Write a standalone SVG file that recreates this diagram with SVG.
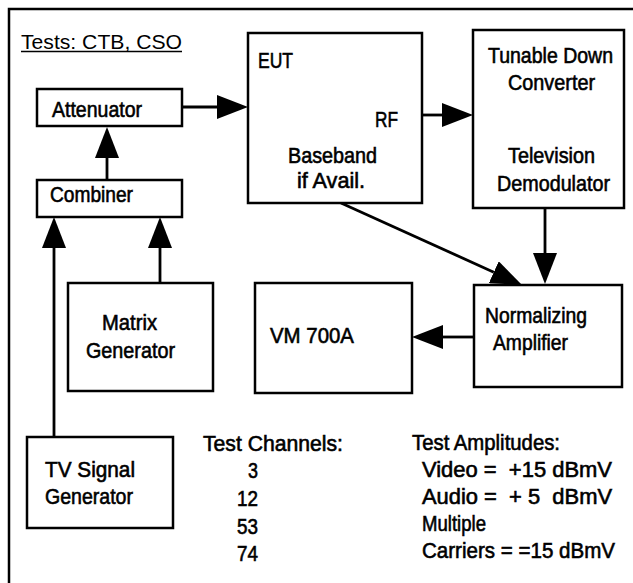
<svg xmlns="http://www.w3.org/2000/svg" width="633" height="583" viewBox="0 0 633 583">
<style>
  .box { fill: #fff; stroke: #000; stroke-width: 2.5; }
  .frame { fill: none; stroke: #000; stroke-width: 2.5; }
  .wire { fill: none; stroke: #000; stroke-width: 2.8; }
  text { font-family: "Liberation Sans", Arial, Helvetica, sans-serif; font-size: 22px; fill: #000; stroke: #000; stroke-width: 0.6; white-space: pre; }
  .ttl { font-size: 21px; stroke-width: 0; }
  .mid { text-anchor: middle; }
  .num { text-anchor: end; }
</style>
<defs>
  <marker id="ah" viewBox="0 -12 31 24" markerWidth="31" markerHeight="24" refX="0" refY="0" markerUnits="userSpaceOnUse" orient="auto">
    <path d="M0,-12 L31,0 L0,12 Z" fill="#000"/>
  </marker>
</defs>
<rect width="633" height="583" fill="#fff"/>
<path class="frame" d="M9,583 L9,9 L633,9"/>
<g id="title">
  <text class="ttl" x="21" y="49" textLength="161" lengthAdjust="spacingAndGlyphs">Tests: CTB, CSO</text>
  <line x1="21" y1="51.5" x2="182" y2="51.5" stroke="#000" stroke-width="1.5"/>
</g>
<g id="connectors">
  <line class="wire" x1="107" y1="180" x2="107" y2="158" marker-end="url(#ah)"/>
  <line class="wire" x1="182" y1="107" x2="217" y2="107" marker-end="url(#ah)"/>
  <line class="wire" x1="422" y1="115" x2="442" y2="115" marker-end="url(#ah)"/>
  <line class="wire" x1="545" y1="208" x2="545" y2="253" marker-end="url(#ah)"/>
  <line class="wire" x1="341" y1="203" x2="493.8" y2="272.2" stroke-width="3.5" marker-end="url(#ah)"/>
  <line class="wire" x1="474" y1="337" x2="443" y2="337" marker-end="url(#ah)"/>
  <line class="wire" x1="160" y1="283" x2="160" y2="248" marker-end="url(#ah)"/>
  <line class="wire" x1="54" y1="437" x2="54" y2="248" marker-end="url(#ah)"/>
</g>
<g id="attenuator">
  <rect class="box" x="37" y="89" width="145" height="37"/>
  <text x="52" y="117" textLength="90" lengthAdjust="spacingAndGlyphs">Attenuator</text>
</g>
<g id="combiner">
  <rect class="box" x="37" y="180" width="145" height="37"/>
  <text x="50" y="202" textLength="83" lengthAdjust="spacingAndGlyphs">Combiner</text>
</g>
<g id="eut">
  <rect class="box" x="248" y="33" width="174" height="170"/>
  <text x="258" y="68" textLength="35" lengthAdjust="spacingAndGlyphs">EUT</text>
  <text x="375" y="127" textLength="23" lengthAdjust="spacingAndGlyphs">RF</text>
  <text class="mid" x="332.5" y="163" textLength="89" lengthAdjust="spacingAndGlyphs">Baseband</text>
  <text class="mid" x="331" y="188" textLength="68" lengthAdjust="spacingAndGlyphs">if Avail.</text>
</g>
<g id="tunable">
  <rect class="box" x="473" y="30" width="151" height="178"/>
  <text class="mid" x="550.5" y="63" textLength="125" lengthAdjust="spacingAndGlyphs">Tunable Down</text>
  <text class="mid" x="551.5" y="90" textLength="87" lengthAdjust="spacingAndGlyphs">Converter</text>
  <text class="mid" x="551.5" y="163" textLength="87" lengthAdjust="spacingAndGlyphs">Television</text>
  <text class="mid" x="553.5" y="191" textLength="113" lengthAdjust="spacingAndGlyphs">Demodulator</text>
</g>
<g id="normalizing">
  <rect class="box" x="474" y="285" width="148" height="102"/>
  <text class="mid" x="536" y="323" textLength="102" lengthAdjust="spacingAndGlyphs">Normalizing</text>
  <text class="mid" x="530.5" y="350" textLength="75" lengthAdjust="spacingAndGlyphs">Amplifier</text>
</g>
<g id="vm700a">
  <rect class="box" x="255" y="283" width="157" height="110"/>
  <text x="270" y="343" textLength="84" lengthAdjust="spacingAndGlyphs">VM 700A</text>
</g>
<g id="matrix">
  <rect class="box" x="68" y="283" width="145" height="108"/>
  <text class="mid" x="129.5" y="330" textLength="55" lengthAdjust="spacingAndGlyphs">Matrix</text>
  <text class="mid" x="130.5" y="358" textLength="89" lengthAdjust="spacingAndGlyphs">Generator</text>
</g>
<g id="tvsignal">
  <rect class="box" x="27" y="437" width="146" height="91"/>
  <text x="45" y="477" textLength="90" lengthAdjust="spacingAndGlyphs">TV Signal</text>
  <text x="45" y="504" textLength="88" lengthAdjust="spacingAndGlyphs">Generator</text>
</g>
<g id="channels">
  <text x="203" y="451" textLength="140" lengthAdjust="spacingAndGlyphs">Test Channels:</text>
  <text class="num" x="258" y="478" textLength="10" lengthAdjust="spacingAndGlyphs">3</text>
  <text class="num" x="258" y="506" textLength="21" lengthAdjust="spacingAndGlyphs">12</text>
  <text class="num" x="258" y="534" textLength="21" lengthAdjust="spacingAndGlyphs">53</text>
  <text class="num" x="258" y="561" textLength="21" lengthAdjust="spacingAndGlyphs">74</text>
</g>
<g id="amplitudes">
  <text x="412" y="450" textLength="148" lengthAdjust="spacingAndGlyphs">Test Amplitudes:</text>
  <text x="422" y="477" textLength="190" lengthAdjust="spacingAndGlyphs">Video =  +15 dBmV</text>
  <text x="422" y="504" textLength="190" lengthAdjust="spacingAndGlyphs">Audio =  + 5  dBmV</text>
  <text x="422" y="531" textLength="64" lengthAdjust="spacingAndGlyphs">Multiple</text>
  <text x="422" y="558" textLength="193" lengthAdjust="spacingAndGlyphs">Carriers = =15 dBmV</text>
</g>
</svg>
